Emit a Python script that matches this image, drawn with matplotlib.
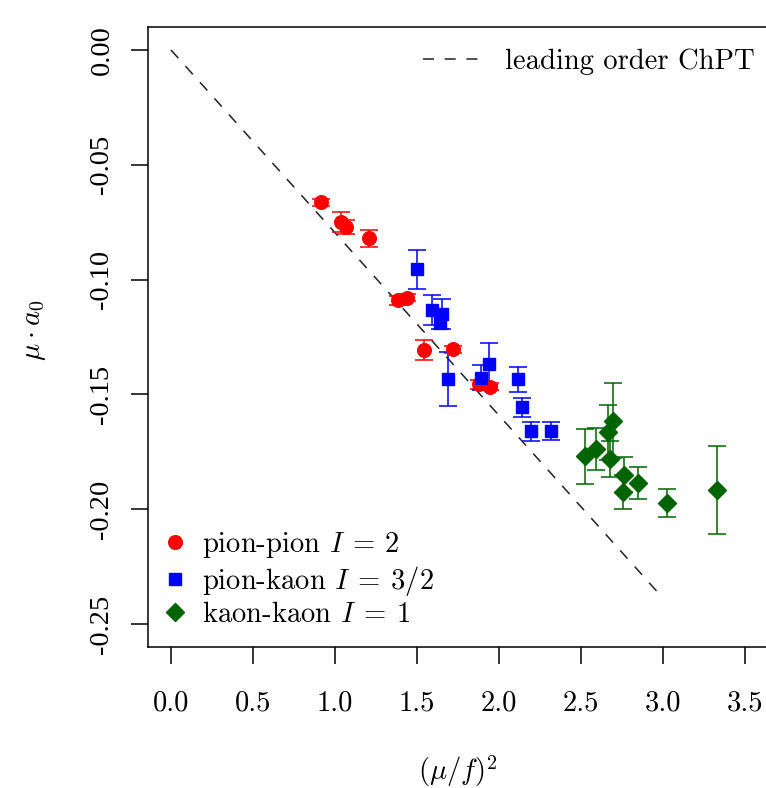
import numpy as np
import matplotlib
matplotlib.use("Agg")
import matplotlib.pyplot as plt
from matplotlib.lines import Line2D

# pion-pion I=2
pp_x = [0.916, 1.036, 1.067, 1.21, 1.383, 1.44, 1.541, 1.719, 1.88, 1.943]
pp_y = [-0.0663, -0.0750, -0.0772, -0.0820, -0.1090, -0.1079, -0.1307, -0.1304, -0.1456, -0.1466]
pp_err = [0.0015, 0.0043, 0.0030, 0.0038, 0.0020, 0.0015, 0.0043, 0.0015, 0.0020, 0.0015]

# pion-kaon I=3/2
pk_x = [1.50, 1.592, 1.654, 1.643, 1.688, 1.888, 1.94, 2.116, 2.142, 2.197, 2.315]
pk_y = [-0.0956, -0.1131, -0.1148, -0.1187, -0.1434, -0.1427, -0.1368, -0.1434, -0.1557, -0.1661, -0.1658]
pk_err = [0.0083, 0.0065, 0.0065, 0.0030, 0.0117, 0.0055, 0.0090, 0.0055, 0.0040, 0.0040, 0.0040]

# kaon-kaon I=1
kk_x = [2.523, 2.594, 2.697, 2.666, 2.676, 2.763, 2.757, 2.849, 3.022, 3.327]
kk_y = [-0.1769, -0.1737, -0.1615, -0.1665, -0.1781, -0.1849, -0.1925, -0.1885, -0.1974, -0.1916]
kk_err = [0.0120, 0.0092, 0.0163, 0.0120, 0.0077, 0.0077, 0.0075, 0.0070, 0.0060, 0.0190]

# leading order ChPT
lo_x = [0.0, 2.965]
lo_slope = -1.0 / (4.0 * np.pi)

xticks = [0.0, 0.5, 1.0, 1.5, 2.0, 2.5, 3.0, 3.5]
xticklabels = ["0.0", "0.5", "1.0", "1.5", "2.0", "2.5", "3.0", "3.5"]
yticks = [0.0, -0.05, -0.10, -0.15, -0.20, -0.25]
yticklabels = ["0.00", "-0.05", "-0.10", "-0.15", "-0.20", "-0.25"]

plt.rcParams["font.family"] = "cmr10"
plt.rcParams["mathtext.fontset"] = "cm"
plt.rcParams["axes.unicode_minus"] = False
plt.rcParams["axes.formatter.use_mathtext"] = True

W, H = 766, 788
fs = 20.6
fig = plt.figure(figsize=(W / 100, H / 100), dpi=100)
ax = fig.add_axes([148 / W, (H - 647) / H, 620 / W, 620 / H])

ax.set_xlim(-0.14, 3.64)
ax.set_ylim(-0.26, 0.01)

lo_line, = ax.plot(lo_x, [lo_slope * x for x in lo_x], color="#222222",
                   lw=1.1, dashes=(7.2, 7.0))

ebkw = dict(linestyle="none", capsize=6.5, elinewidth=1.1, capthick=1.1)
ax.errorbar(pp_x, pp_y, yerr=pp_err, fmt="o", color="#ff0000", ms=9.8, **ebkw)
ax.errorbar(pk_x, pk_y, yerr=pk_err, fmt="s", color="#0000ff", ms=9.2, **ebkw)
ax.errorbar(kk_x, kk_y, yerr=kk_err, fmt="D", color="#006400", ms=8.8, **ebkw)

ax.set_xticks(xticks, xticklabels, fontsize=fs)
ax.set_yticks(yticks, yticklabels, rotation=90, va="center",
              fontfamily="Liberation Serif", fontsize=20.5)
ax.tick_params(axis="both", direction="out", length=12.2, width=1.1)
ax.tick_params(axis="x", pad=19)
ax.tick_params(axis="y", pad=12)
for s in ax.spines.values():
    s.set_linewidth(1.1)

fig.text(457.5 / W, 1 - 771 / H, r"$(\mu/f)^2$", ha="center", va="center", fontsize=fs)
fig.text(35 / W, 1 - 330 / H, r"$\mu\cdot a_0$", ha="center", va="center",
         rotation=90, fontsize=fs)

leg1 = ax.legend([lo_line], ["leading order ChPT"], loc="center left",
                 bbox_to_anchor=(423 / W, 1 - 62 / H), bbox_transform=fig.transFigure,
                 frameon=False, fontsize=fs, handlelength=1.92, handletextpad=0.94,
                 borderpad=0, borderaxespad=0)
ax.add_artist(leg1)

handles = [
    Line2D([], [], ls="none", marker="o", color="#ff0000", ms=9.8),
    Line2D([], [], ls="none", marker="s", color="#0000ff", ms=8.4),
    Line2D([], [], ls="none", marker="D", color="#006400", ms=8.8),
]
labels = [r"pion-pion $I\:=\:2$", r"pion-kaon $I\:=\:3/2$", r"kaon-kaon $I\:=\:1$"]
ax.legend(handles, labels, loc="center left",
          bbox_to_anchor=(161 / W, 1 - 579 / H), bbox_transform=fig.transFigure,
          frameon=False, fontsize=fs, handlelength=0.97, handletextpad=0.45,
          labelspacing=0.15, borderpad=0, borderaxespad=0)

fig.savefig("out.png", dpi=100)
